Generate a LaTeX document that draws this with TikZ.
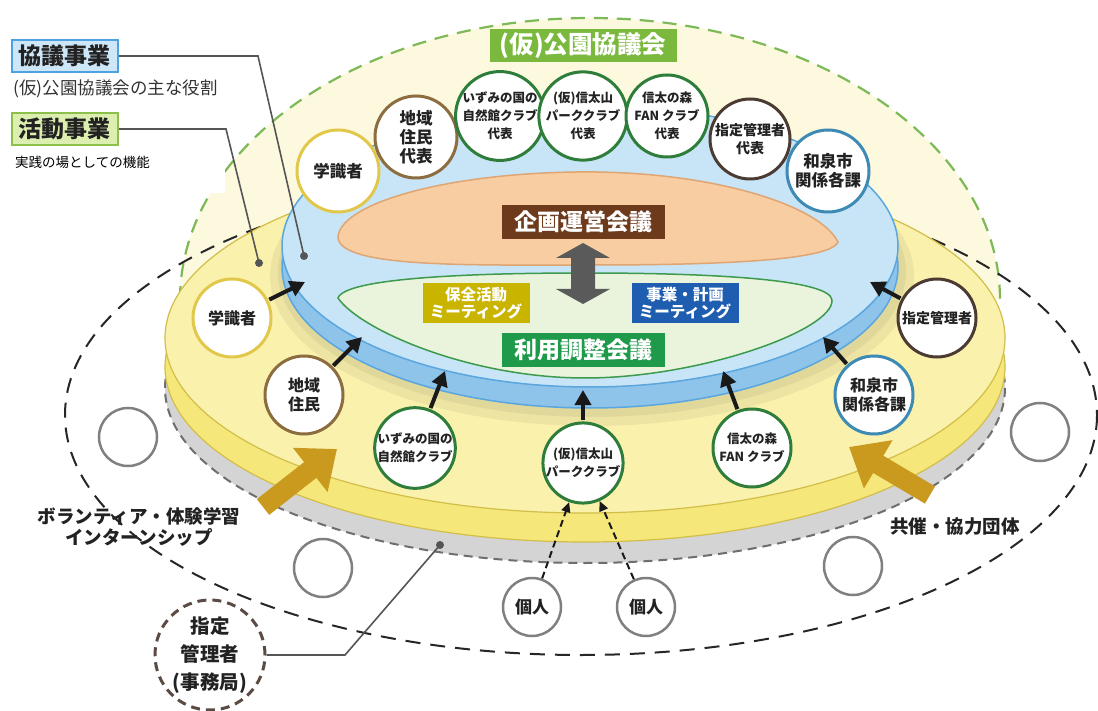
\documentclass[tikz,border=0pt]{standalone}
\usepackage{fontspec}
\setmainfont{Noto Sans CJK JP}
\usetikzlibrary{arrows.meta,shapes.geometric}

\definecolor{domefill}{HTML}{FCF9DE}
\definecolor{domeedge}{HTML}{7DB956}
\definecolor{ytop}{HTML}{FAF1AC}
\definecolor{yband}{HTML}{F6E77A}
\definecolor{yedge}{HTML}{D2BE48}
\definecolor{gband}{HTML}{D4D4D4}
\definecolor{gedge}{HTML}{6E6E6E}
\definecolor{btop}{HTML}{C8E5F8}
\definecolor{bband}{HTML}{8EC3EA}
\definecolor{bedge}{HTML}{5AA6DE}
\definecolor{orfill}{HTML}{F8CDA2}
\definecolor{oredge}{HTML}{DFA572}
\definecolor{grfill}{HTML}{EAF4DD}
\definecolor{gredge}{HTML}{3D9A4C}
\definecolor{brownbox}{HTML}{6E3A1C}
\definecolor{greenbox}{HTML}{1F9A4A}
\definecolor{olivebox}{HTML}{C9B400}
\definecolor{bluebox}{HTML}{1E5DB0}
\definecolor{titlegreen}{HTML}{7AB83E}
\definecolor{cyellow}{HTML}{E2C84A}
\definecolor{cbrown}{HTML}{8C6D3F}
\definecolor{cgreen}{HTML}{2E7D3A}
\definecolor{cdark}{HTML}{4B3B33}
\definecolor{cteal}{HTML}{3D8AB5}
\definecolor{goldc}{HTML}{C99A1E}
\definecolor{arrowgray}{HTML}{5A5A5A}
\definecolor{leaderc}{HTML}{555555}
\definecolor{lgbox}{HTML}{CDE6F8}
\definecolor{lgboxedge}{HTML}{4DA3E0}
\definecolor{lgreen}{HTML}{DCEFB0}
\definecolor{lgreenedge}{HTML}{8CC04A}
\definecolor{emptyc}{HTML}{808080}
\definecolor{jmc}{HTML}{5B4B45}
\definecolor{txtc}{HTML}{222222}

\tikzset{
  member/.style={circle, fill=white, draw, line width=3pt, minimum size=80pt, inner sep=0pt,
    align=center, text=txtc, font=\bfseries\fontsize{15}{18}\selectfont},
  smalltxt/.style={font=\bfseries\fontsize{12.5}{18}\selectfont},
  midtxt/.style={font=\bfseries\fontsize{14}{18}\selectfont},
  emptycirc/.style={circle, draw=emptyc, line width=2.5pt, fill=white, minimum size=58pt, inner sep=0pt},
  person/.style={circle, draw=emptyc, line width=2.5pt, fill=white, minimum size=58pt, inner sep=0pt,
    font=\bfseries\fontsize{17}{18}\selectfont, text=txtc},
  blackarrow/.style={draw=black!90, line width=4pt, -{Triangle[length=15pt,width=16pt]}, shorten <=1pt},
  dasharrow/.style={draw=black!90, line width=2pt, dash pattern=on 7pt off 4pt, -{Triangle[length=10pt,width=9pt]}},
  goldarrow/.style={draw=goldc, line width=20pt, -{Triangle[length=34pt,width=54pt]}},
  labbox/.style={text=white, inner sep=0pt, align=center, minimum width=163pt, minimum height=34pt,
    font=\bfseries\fontsize{23}{24}\selectfont},
  meetbox/.style={text=white, inner sep=0pt, align=center, minimum width=107pt, minimum height=40pt,
    font=\bfseries\fontsize{15.5}{17.5}\selectfont},
  legbox/.style={inner sep=0pt, minimum width=106pt, minimum height=32pt, line width=2pt,
    font=\bfseries\fontsize{23}{24}\selectfont, text=txtc},
  leaderline/.style={draw=leaderc, line width=1.6pt},
  dot/.style={circle, fill=leaderc, inner sep=0pt, minimum size=8pt},
  plain/.style={text=txtc, inner sep=0pt, align=center, font=\bfseries\fontsize{18.5}{21}\selectfont},
}

\begin{document}
\begin{tikzpicture}[x=1pt,y=-1pt]
\useasboundingbox (0,0) rectangle (1098,711);
\fill[white] (0,0) rectangle (1098,711);

% dome
\fill[domefill] (180,300) arc[start angle=180, end angle=360, x radius=410, y radius=282] -- cycle;
\draw[domeedge, line width=2.2pt, dash pattern=on 14pt off 9pt] (180,300) arc[start angle=180, end angle=360, x radius=410, y radius=282];

% large dashed ellipse
\draw[black!85, line width=2pt, dash pattern=on 15pt off 10pt] (581,415) ellipse [x radius=516, y radius=240];

% yellow disc
\filldraw[fill=gband, draw=gedge, line width=2pt, dash pattern=on 9pt off 6pt] (585,388) ellipse [x radius=420, y radius=175];
\filldraw[fill=yband, draw=yedge, line width=1.2pt] (585,367) ellipse [x radius=420, y radius=175];
\filldraw[fill=ytop, draw=yedge, line width=1.2pt] (585,338) ellipse [x radius=420, y radius=175];

% shadow of blue disc
\fill[black, opacity=0.05] (592,276) ellipse [x radius=322, y radius=150];
\fill[black, opacity=0.05] (592,272) ellipse [x radius=314, y radius=145];

% blue disc
\filldraw[fill=bband, draw=bedge, line width=1.5pt] (590,267) ellipse [x radius=308, y radius=141];
\filldraw[fill=btop, draw=bedge, line width=1.5pt] (590,246) ellipse [x radius=308, y radius=141];

% orange and green areas
\filldraw[fill=orfill, draw=oredge, line width=1.5pt] (338,238) .. controls (338,205) and (440,174) .. (575,172)
  .. controls (710,170) and (820,205) .. (838,242) .. controls (830,262) and (700,265) .. (590,265)
  .. controls (470,265) and (342,268) .. (338,238) -- cycle;
\filldraw[fill=grfill, draw=gredge, line width=1.5pt] (338,298) .. controls (345,278) and (470,273) .. (585,273)
  .. controls (720,273) and (830,280) .. (832,300) .. controls (834,330) and (700,378) .. (585,378)
  .. controls (470,378) and (360,330) .. (338,298) -- cycle;

% labels inside
\node[labbox, fill=brownbox] (kikaku) at (583,222) {企画運営会議};
\node[labbox, fill=greenbox] (riyou) at (583,350) {利用調整会議};
\node[meetbox, fill=olivebox] (hozen) at (476,303) {保全活動\\ミーティング};
\node[meetbox, fill=bluebox] (jigyo) at (685,303) {事業・計画\\ミーティング};
\fill[arrowgray] (583,243) -- (610,258) -- (595,258) -- (595,289) -- (610,289) -- (583,304)
  -- (556,289) -- (571,289) -- (571,258) -- (556,258) -- cycle;

% title
\node[fill=titlegreen, text=white, inner sep=0pt, minimum width=187pt, minimum height=33pt,
  font=\bfseries\fontsize{24.5}{26}\selectfont] (title) at (583,46) {(仮)公園協議会};

% top row members
\node[member, draw=cyellow, minimum size=82pt, font=\bfseries\fontsize{16.5}{19}\selectfont] (t1) at (338,171) {学識者};
\node[member, draw=cbrown, minimum size=82pt, font=\bfseries\fontsize{16.5}{19}\selectfont] (t2) at (416,137) {地域\\住民\\代表};
\node[member, draw=cgreen, minimum size=82pt, smalltxt] (t3) at (500,116) {いずみの国の\\自然館クラブ\\代表};
\node[member, draw=cgreen, minimum size=82pt, smalltxt] (t4) at (583,116) {(仮)信太山\\パーククラブ\\代表};
\node[member, draw=cgreen, minimum size=82pt, smalltxt] (t5) at (667,116) {信太の森\\FAN クラブ\\代表};
\node[member, draw=cdark, minimum size=80pt, midtxt] (t6) at (750,139) {指定管理者\\代表};
\node[member, draw=cteal, minimum size=82pt, font=\bfseries\fontsize{16.5}{19}\selectfont] (t7) at (828,171) {和泉市\\関係各課};

% lower row members
\node[member, draw=cyellow, minimum size=78pt, font=\bfseries\fontsize{16}{19}\selectfont] (l1) at (232,318) {学識者};
\node[member, draw=cbrown, minimum size=78pt, font=\bfseries\fontsize{16}{19}\selectfont] (l2) at (304,395) {地域\\住民};
\node[member, draw=cgreen, minimum size=78pt, smalltxt] (l3) at (415,448) {いずみの国の\\自然館クラブ};
\node[member, draw=cgreen, minimum size=80pt, smalltxt] (l4) at (583,463) {(仮)信太山\\パーククラブ};
\node[member, draw=cgreen, minimum size=78pt, smalltxt] (l5) at (752,448) {信太の森\\FAN クラブ};
\node[member, draw=cteal, minimum size=78pt, font=\bfseries\fontsize{16}{19}\selectfont] (l6) at (874,395) {和泉市\\関係各課};
\node[member, draw=cdark, minimum size=78pt, midtxt] (l7) at (937,318) {指定管理者};

% arrow targets on the blue disc
\coordinate (a1) at (305,282);
\coordinate (a2) at (362,337);
\coordinate (a3) at (445,371);
\coordinate (a4) at (583,390);
\coordinate (a5) at (723,371);
\coordinate (a6) at (823,337);
\coordinate (a7) at (870,282);
\draw[blackarrow] (l1) -- (a1);
\draw[blackarrow] (l2) -- (a2);
\draw[blackarrow] (l3) -- (a3);
\draw[blackarrow] (l4) -- (a4);
\draw[blackarrow] (l5) -- (a5);
\draw[blackarrow] (l6) -- (a6);
\draw[blackarrow] (l7) -- (a7);

% empty circles
\node[emptycirc] (g1) at (128,437) {};
\node[emptycirc] (g2) at (323,568) {};
\node[emptycirc] (g3) at (853,566) {};
\node[emptycirc] (g4) at (1040,432) {};

% individuals
\node[person] (p1) at (532,607) {個人};
\node[person] (p2) at (646,607) {個人};
\draw[dasharrow] (p1) -- (l4);
\draw[dasharrow] (p2) -- (l4);

% gold arrows and labels
\coordinate (gl1) at (263,507);
\coordinate (gl2) at (337,449);
\coordinate (gr1) at (930,495);
\coordinate (gr2) at (849,447);
\draw[goldarrow] (gl1) -- (gl2);
\draw[goldarrow] (gr1) -- (gr2);
\node[plain] (vol) at (139,527) {ボランティア・体験学習\\インターンシップ};
\node[plain] (kyo) at (955,527) {共催・協力団体};

% secretariat
\node[circle, draw=jmc, line width=3pt, dash pattern=on 9pt off 6pt, fill=white, minimum size=110pt,
  inner sep=0pt, align=center, text=txtc, font=\bfseries\fontsize{19.5}{28}\selectfont] (jm) at (210,655) {指定\\管理者\\(事務局)};
\node[dot] (d3) at (440,545) {};
\coordinate (c3) at (345,655);
\draw[leaderline] (jm.east) -- (c3) -- (d3.center);

% legend
\node[legbox, fill=lgbox, draw=lgboxedge] (k1) at (65,56) {協議事業};
\node[anchor=west, inner sep=0pt, text=black!80, font=\fontsize{17.5}{20}\selectfont] (k1t) at (13,89) {(仮)公園協議会の主な役割};
\node[legbox, fill=lgreen, draw=lgreenedge] (k2) at (65,129) {活動事業};
\fill[white] (12,147) rectangle (225,193);
\node[anchor=west, inner sep=0pt, text=black, font=\fontsize{13.5}{16}\selectfont] (k2t) at (15,162) {実践の場としての機能};
\node[dot] (d1) at (304,256) {};
\node[dot] (d2) at (259,263) {};
\coordinate (c1) at (258,56);
\coordinate (c2) at (226,129);
\draw[leaderline] (k1.east) -- (c1) -- (d1.center);
\draw[leaderline] (k2.east) -- (c2) -- (d2.center);
\end{tikzpicture}
\end{document}
